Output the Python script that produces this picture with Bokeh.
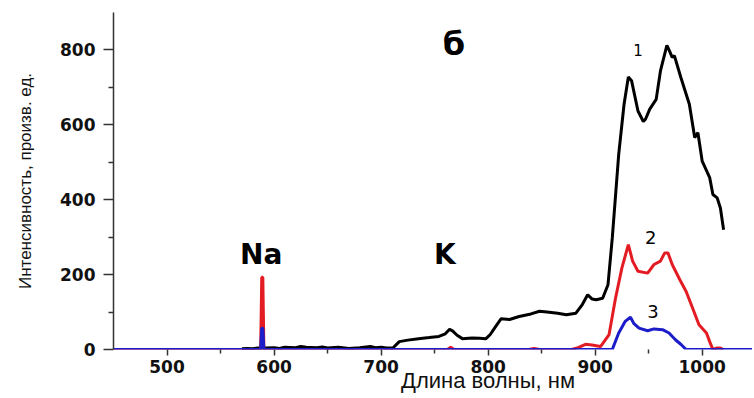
from bokeh.plotting import figure
from bokeh.models import Range1d, Label, FixedTicker
from bokeh.embed import file_html
from bokeh.resources import INLINE

# ---- data ----
wl_1 = [570, 575, 580, 585, 592, 600, 605, 610, 620, 625, 630, 640, 645, 650, 660, 670, 680,
        690, 695, 700, 705, 711, 717, 725, 735, 745, 754, 760, 764, 767, 771, 776, 785, 792,
        798, 802, 806, 812, 820, 829, 840, 848, 855, 865, 873, 882, 888, 893, 897, 901, 907,
        912, 916, 922, 927, 931, 934, 940, 945, 947, 951, 957, 961, 967, 969, 972, 974, 980,
        988, 993, 996, 1000, 1007, 1010, 1014, 1017, 1020]
int_1 = [2, 3, 2, 4, 4, 5, 3, 6, 5, 8, 6, 5, 7, 4, 6, 3, 5,
         8, 5, 6, 4, 4, 21, 25, 29, 32, 35, 42, 54, 49, 38, 29, 31, 30,
         29, 40, 57, 82, 80, 88, 95, 102, 100, 97, 93, 97, 120, 146, 135, 133, 137,
         173, 298, 521, 655, 728, 718, 637, 609, 615, 642, 668, 744, 812, 800, 780, 785, 727,
         655, 566, 579, 503, 459, 414, 405, 378, 320]

wl_2 = [450, 587.5, 588.5, 589.5, 590.5, 762, 765, 768, 838, 843, 848, 878, 884, 891, 897, 905,
        913, 919, 925, 931, 935, 940, 949, 955, 961, 965, 968, 972, 979, 985, 991, 997, 1004,
        1007, 1010, 1014, 1017, 1020]
int_2 = [0, 0, 193, 193, 0, 0, 6, 0, 0, 3, 0, 0, 5, 14, 12, 8,
         40, 137, 218, 280, 236, 209, 204, 227, 236, 258, 258, 227, 187, 155, 111, 66, 44,
         21, 0, 4, 4, 0]

wl_3 = [450, 587.5, 588.5, 589.5, 590.5, 916, 922, 928, 933, 936, 941, 949, 955, 963, 969,
        975, 980, 985, 1050]
int_3 = [0, 0, 57, 57, 0, 0, 44, 75, 86, 70, 57, 50, 55, 53, 44,
         26, 14, 0, 0]

x_ticks = [500, 600, 700, 800, 900, 1000]
x_minor = [550, 650, 750, 850, 950, 1050]
y_ticks = [0, 200, 400, 600, 800]
y_minor = [100, 300, 500, 700]

p = figure(width=752, height=396, output_backend="svg", toolbar_location=None,
           x_range=Range1d(450, 1047), y_range=Range1d(0, 900),
           min_border_left=113, min_border_right=0, min_border_top=12, min_border_bottom=47)
p.outline_line_color = None
p.xgrid.visible = False
p.ygrid.visible = False
p.background_fill_color = "white"

p.line(wl_1, int_1, line_color="black", line_width=3)
p.line(wl_2, int_2, line_color="#e31b23", line_width=3)
p.line(wl_3, int_3, line_color="#1c1cc8", line_width=3)

for ax in (p.xaxis[0], p.yaxis[0]):
    ax.axis_line_color = "#333333"
    ax.axis_line_width = 1.5
    ax.major_tick_line_color = "#333333"
    ax.minor_tick_line_color = "#333333"
    ax.major_tick_line_width = 1.5
    ax.minor_tick_line_width = 1.5
    ax.major_tick_in = 0
    ax.minor_tick_in = 0
    ax.major_label_text_font = "DejaVu Sans"
    ax.major_label_text_font_style = "bold"
    ax.major_label_text_font_size = "17px"
    ax.major_label_text_color = "#111111"
    ax.axis_label_text_font_style = "normal"
    ax.axis_label_text_color = "#111111"
    ax.axis_label_text_font = "Liberation Sans"

p.xaxis.axis_line_color = None
p.xaxis.ticker = FixedTicker(ticks=x_ticks, minor_ticks=x_minor)
p.yaxis.ticker = FixedTicker(ticks=y_ticks, minor_ticks=y_minor)
p.xaxis.major_tick_out = 6
p.xaxis.minor_tick_out = 4
p.yaxis.major_tick_out = 10
p.yaxis.minor_tick_out = 5
p.xaxis.major_label_standoff = 4
p.yaxis.major_label_standoff = 8

# leading no-break spaces shift the centred title to the right, as in the reference
p.xaxis.axis_label = "\u00a0" * 18 + "Длина волны, нм"
p.xaxis.axis_label_text_font_size = "22px"
p.xaxis.axis_label_standoff = -8
p.yaxis.axis_label = "Интенсивность, произв. ед."
p.yaxis.axis_label_text_font_size = "17px"
p.yaxis.axis_label_standoff = 22

def lab(x, y, t, size, bold=True):
    p.add_layout(Label(x=x, y=y, text=t, text_align="center", text_baseline="middle",
                       text_font="DejaVu Sans", text_font_size=size,
                       text_font_style="bold" if bold else "normal", text_color="black"))

lab(588, 253, "Na", "28px")
lab(759.5, 253, "K", "28px")
lab(768, 815, "б", "32px")
lab(940, 800, "1", "15px", bold=False)
lab(952, 299, "2", "18px", bold=False)
lab(954, 101, "3", "18px", bold=False)

open("out.html", "w").write(file_html(p, INLINE))
